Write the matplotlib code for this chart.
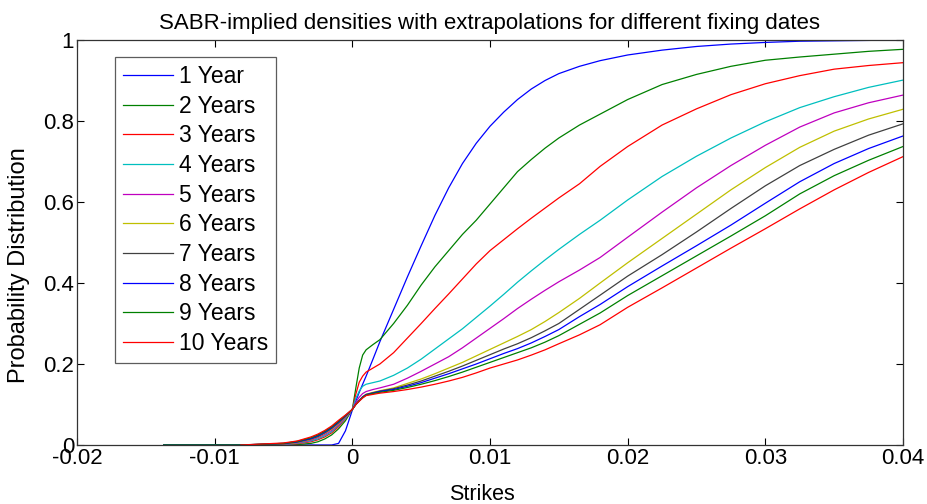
import numpy as np
import matplotlib
matplotlib.use("Agg")
import matplotlib.pyplot as plt
from matplotlib.ticker import FuncFormatter

plt.rcParams['font.family'] = ['Liberation Sans', 'DejaVu Sans']

# strikes (common grid)
strikes = [-0.0137, -0.0081, -0.005, -0.004, -0.003, -0.0025, -0.002, -0.0015, -0.001, -0.0005,
           0.0, 0.00025, 0.0005, 0.00075, 0.001, 0.0015, 0.002, 0.003, 0.004, 0.005,
           0.006, 0.007, 0.008, 0.009, 0.01, 0.011, 0.012, 0.013, 0.014, 0.015,
           0.0165, 0.018, 0.02, 0.0225, 0.025, 0.0275, 0.03, 0.0325, 0.035, 0.0375,
           0.04]

labels = ["1 Year", "2 Years", "3 Years", "4 Years", "5 Years",
          "6 Years", "7 Years", "8 Years", "9 Years", "10 Years"]

y1 = [0, 0, 0, 0, 0, 0, 0, 0, 0.004, 0.035,
      0.086, 0.108, 0.13, 0.15, 0.17, 0.212, 0.255, 0.335, 0.415, 0.492,
      0.567, 0.635, 0.695, 0.745, 0.787, 0.822, 0.853, 0.879, 0.90, 0.917,
      0.935, 0.949, 0.963, 0.975, 0.984, 0.99, 0.994, 0.997, 0.998, 0.999,
      1.0]
y2 = [0, 0, 0, 0.001, 0.004, 0.008, 0.015, 0.025, 0.04, 0.06,
      0.088, 0.14, 0.19, 0.222, 0.235, 0.248, 0.26, 0.30, 0.345, 0.395,
      0.44, 0.48, 0.52, 0.555, 0.595, 0.635, 0.675, 0.705, 0.733, 0.758,
      0.79, 0.817, 0.853, 0.89, 0.915, 0.935, 0.95, 0.958, 0.965, 0.972,
      0.977]
y3 = [0, 0, 0.001, 0.003, 0.008, 0.013, 0.02, 0.03, 0.045, 0.065,
      0.088, 0.125, 0.155, 0.17, 0.18, 0.19, 0.20, 0.228, 0.264, 0.30,
      0.337, 0.373, 0.41, 0.447, 0.48, 0.507, 0.534, 0.56, 0.585, 0.61,
      0.645, 0.688, 0.737, 0.79, 0.83, 0.865, 0.892, 0.912, 0.928, 0.937,
      0.944]
y4 = [0, 0, 0.001, 0.004, 0.01, 0.015, 0.023, 0.033, 0.048, 0.066,
      0.088, 0.115, 0.133, 0.145, 0.15, 0.154, 0.158, 0.172, 0.19, 0.212,
      0.237, 0.262, 0.287, 0.315, 0.343, 0.372, 0.402, 0.43, 0.457, 0.483,
      0.52, 0.555, 0.605, 0.663, 0.713, 0.758, 0.798, 0.833, 0.86, 0.883,
      0.901]
y5 = [0, 0, 0.002, 0.005, 0.012, 0.018, 0.026, 0.036, 0.05, 0.068,
      0.088, 0.105, 0.118, 0.127, 0.132, 0.137, 0.141, 0.15, 0.165, 0.182,
      0.20, 0.218, 0.24, 0.264, 0.288, 0.312, 0.337, 0.36, 0.382, 0.403,
      0.432, 0.463, 0.513, 0.575, 0.635, 0.69, 0.74, 0.785, 0.82, 0.845,
      0.864]
y6 = [0, 0, 0.003, 0.006, 0.014, 0.02, 0.029, 0.039, 0.053, 0.07,
      0.088, 0.10, 0.11, 0.119, 0.125, 0.13, 0.134, 0.141, 0.152, 0.163,
      0.176, 0.19, 0.204, 0.22, 0.236, 0.252, 0.268, 0.285, 0.305, 0.327,
      0.362, 0.40, 0.45, 0.51, 0.57, 0.63, 0.685, 0.735, 0.775, 0.805,
      0.829]
y7 = [0, 0, 0.003, 0.007, 0.015, 0.021, 0.03, 0.041, 0.055, 0.071,
      0.088, 0.10, 0.11, 0.119, 0.125, 0.129, 0.133, 0.139, 0.148, 0.158,
      0.17, 0.182, 0.195, 0.209, 0.223, 0.237, 0.25, 0.265, 0.282, 0.30,
      0.335, 0.37, 0.417, 0.47, 0.526, 0.584, 0.64, 0.69, 0.73, 0.765,
      0.793]
y8 = [0, 0, 0.004, 0.008, 0.016, 0.023, 0.032, 0.043, 0.057, 0.072,
      0.088, 0.10, 0.109, 0.118, 0.124, 0.128, 0.132, 0.137, 0.145, 0.154,
      0.165, 0.176, 0.188, 0.20, 0.213, 0.226, 0.238, 0.252, 0.268, 0.285,
      0.317, 0.347, 0.391, 0.442, 0.492, 0.543, 0.597, 0.65, 0.695, 0.732,
      0.763]
y9 = [0, 0, 0.004, 0.009, 0.018, 0.025, 0.034, 0.045, 0.059, 0.073,
      0.088, 0.10, 0.109, 0.117, 0.123, 0.127, 0.13, 0.135, 0.142, 0.15,
      0.159, 0.169, 0.18, 0.192, 0.204, 0.216, 0.228, 0.24, 0.254, 0.27,
      0.298, 0.326, 0.369, 0.418, 0.467, 0.516, 0.566, 0.62, 0.665, 0.703,
      0.737]
y10 = [np.nan, 0, 0.005, 0.01, 0.02, 0.027, 0.036, 0.047, 0.061, 0.074,
       0.088, 0.10, 0.108, 0.116, 0.122, 0.125, 0.128, 0.132, 0.137, 0.143,
       0.15, 0.158, 0.167, 0.178, 0.19, 0.20, 0.21, 0.222, 0.235, 0.25,
       0.272, 0.297, 0.34, 0.388, 0.437, 0.486, 0.534, 0.583, 0.63, 0.673,
       0.712]

curves = [y1, y2, y3, y4, y5, y6, y7, y8, y9, y10]

# matlab default line order
colors = ['#0000ff', '#008000', '#ff0000', '#00bfbf', '#bf00bf',
          '#bfbf00', '#404040', '#0000ff', '#008000', '#ff0000']

fig = plt.figure(figsize=(9.28, 5.04), dpi=100)
ax = fig.add_axes([77/928, 1 - 445/504, 826/928, 405/504])

for y, c, lab in zip(curves, colors, labels):
    ax.plot(strikes, y, color=c, lw=0.9, label=lab)

ax.set_xlim(-0.02, 0.04)
ax.set_ylim(0, 1)
ax.set_xticks([-0.02, -0.01, 0, 0.01, 0.02, 0.03, 0.04])
ax.set_yticks([0, 0.2, 0.4, 0.6, 0.8, 1])
fmt = FuncFormatter(lambda v, p: '%g' % round(v, 4))
ax.xaxis.set_major_formatter(fmt)
ax.yaxis.set_major_formatter(fmt)
ax.tick_params(direction='in', top=True, right=True, length=5, width=0.8,
               labelsize=16, pad=2)
for s in ax.spines.values():
    s.set_linewidth(0.9)
    s.set_color('#333333')

ax.set_title("SABR-implied densities with extrapolations for different fixing dates",
             fontsize=16, pad=8)
ax.set_xlabel("Strikes", fontsize=15.5)
ax.set_ylabel("Probability Distribution", fontsize=17)
ax.xaxis.set_label_coords(0.49, -0.097)
ax.yaxis.set_label_coords(-0.057, 0.445)

leg = ax.legend(loc='upper left', bbox_to_anchor=(0.046, 0.958), fontsize=16.5,
                frameon=True, fancybox=False, edgecolor='#333333',
                handlelength=2.2, handletextpad=0.25, labelspacing=0.29,
                borderpad=0.35, borderaxespad=0)
leg.get_frame().set_linewidth(0.9)

fig.savefig("out.png", dpi=100)
